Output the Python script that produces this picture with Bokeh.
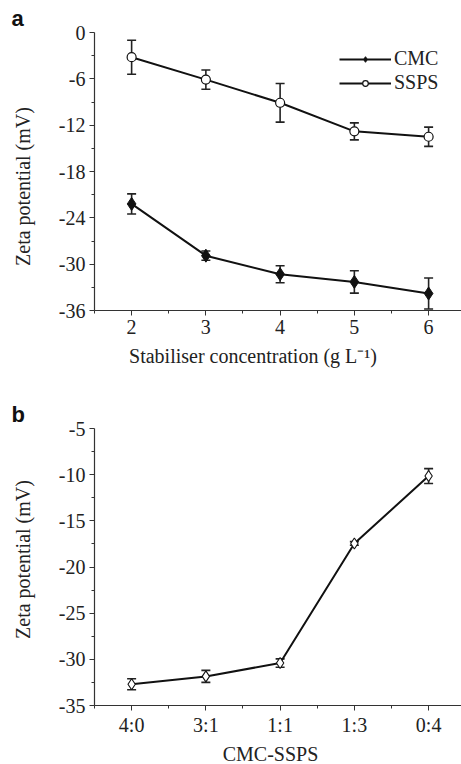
from bokeh.plotting import figure
from bokeh.models import (ColumnDataSource, Whisker, TeeHead, Range1d, FixedTicker,
                          Legend, LegendItem, Title)
from bokeh.layouts import column
from bokeh.embed import file_html
from bokeh.resources import INLINE

# ---------------- data (panel a) ----------------
conc = [2, 3, 4, 5, 6]
cmc_zeta = [-22.2, -28.9, -31.3, -32.3, -33.8]
cmc_err = [1.3, 0.6, 1.1, 1.45, 2.0]
ssps_zeta = [-3.2, -6.1, -9.1, -12.8, -13.5]
ssps_err = [2.2, 1.25, 2.5, 1.1, 1.25]
a_yticks = [-36, -30, -24, -18, -12, -6, 0]

# ---------------- data (panel b) ----------------
ratios = ["4:0", "3:1", "1:1", "1:3", "0:4"]
mix_zeta = [-32.7, -31.85, -30.4, -17.45, -10.15]
mix_err = [0.6, 0.65, 0.45, 0.2, 0.8]
b_yticks = [-35, -30, -25, -20, -15, -10, -5]

SERIF = "Liberation Serif"
TICK_FS = "20px"
LAB_FS = "20px"
NB = "\u00a0"


def style(p):
    p.grid.visible = False
    p.outline_line_color = None
    for ax in (p.xaxis[0], p.yaxis[0]):
        ax.axis_line_color = "#333333"
        ax.axis_line_width = 1.2
        ax.major_tick_line_color = "#333333"
        ax.minor_tick_line_color = "#333333"
        ax.major_tick_out = 5
        ax.major_tick_in = 0
        ax.minor_tick_out = 3
        ax.minor_tick_in = 0
        ax.major_label_text_font = SERIF
        ax.major_label_text_font_size = TICK_FS
        ax.major_label_text_color = "#222222"
        ax.axis_label_text_font = SERIF
        ax.axis_label_text_font_size = LAB_FS
        ax.axis_label_text_font_style = "normal"
        ax.axis_label_text_color = "#222222"
    p.yaxis[0].major_label_standoff = 4
    p.yaxis[0].axis_label_standoff = 22
    p.xaxis[0].major_label_standoff = 4
    p.xaxis[0].axis_label_standoff = 8


def panel_title(p, txt):
    p.add_layout(Title(text=txt, align="left", offset=-83, standoff=4,
                       text_font="Liberation Sans", text_font_style="bold",
                       text_font_size="22px", text_color="#111111"), "above")


def whisk(p, x, y, e):
    up = [a + b for a, b in zip(y, e)]
    lo = [a - b for a, b in zip(y, e)]
    src = ColumnDataSource(dict(x=x, up=up, lo=lo))
    w = Whisker(base="x", upper="up", lower="lo", source=src,
                line_color="#222222", line_width=1.6,
                upper_head=TeeHead(size=9, line_color="#222222", line_width=1.6),
                lower_head=TeeHead(size=9, line_color="#222222", line_width=1.6))
    p.add_layout(w)


# ---------------- panel a ----------------
p1 = figure(frame_width=367, frame_height=278, min_border_left=94, min_border_right=0,
            min_border_top=32, min_border_bottom=70,
            x_range=Range1d(1.5, 6.443), y_range=Range1d(-36, 0),
            output_backend="svg", toolbar_location=None)
p1.xaxis.ticker = FixedTicker(ticks=conc, minor_ticks=[1.5, 2.5, 3.5, 4.5, 5.5, 6.5])
p1.yaxis.ticker = FixedTicker(ticks=a_yticks,
                              minor_ticks=[-33, -27, -21, -15, -9, -3])
p1.yaxis.major_label_overrides = {t: str(t) for t in a_yticks}
p1.xaxis.axis_label = "Stabiliser concentration (g L\u207b\u00b9)" + NB * 10
p1.yaxis.axis_label = "Zeta potential (mV)" + NB * 6
style(p1)
panel_title(p1, "a")

whisk(p1, conc, cmc_zeta, cmc_err)
whisk(p1, conc, ssps_zeta, ssps_err)
l1 = p1.line(conc, cmc_zeta, line_color="#111111", line_width=2)
m1 = p1.scatter(conc, cmc_zeta, marker="diamond", size=13, fill_color="#111111",
                line_color="#111111")
l2 = p1.line(conc, ssps_zeta, line_color="#111111", line_width=2)
m2 = p1.scatter(conc, ssps_zeta, marker="circle", size=9, fill_color="white",
                line_color="#111111", line_width=1.2)

leg = Legend(items=[LegendItem(label="CMC", renderers=[l1, m1]),
                    LegendItem(label="SSPS", renderers=[l2, m2])],
             location=(245, 216), glyph_width=52, glyph_height=14,
             label_standoff=3, spacing=1, padding=0, margin=0,
             label_text_font=SERIF, label_text_font_size=LAB_FS,
             label_text_color="#222222",
             border_line_color=None, background_fill_alpha=0)
p1.add_layout(leg)

# ---------------- panel b ----------------
xpos = list(range(1, len(ratios) + 1))
p2 = figure(frame_width=367, frame_height=277, min_border_left=94, min_border_right=0,
            min_border_top=48, min_border_bottom=59,
            x_range=Range1d(0.5, 5.443), y_range=Range1d(-35, -5),
            output_backend="svg", toolbar_location=None)
p2.xaxis.ticker = FixedTicker(ticks=xpos, minor_ticks=[0.5, 1.5, 2.5, 3.5, 4.5, 5.5])
p2.xaxis.major_label_overrides = {i: r for i, r in zip(xpos, ratios)}
p2.yaxis.ticker = FixedTicker(ticks=b_yticks,
                              minor_ticks=[-32.5, -27.5, -22.5, -17.5, -12.5, -7.5])
p2.yaxis.major_label_overrides = {t: str(t) for t in b_yticks}
p2.xaxis.axis_label = "CMC-SSPS" + NB * 3
p2.yaxis.axis_label = NB * 3 + "Zeta potential (mV)"
style(p2)
panel_title(p2, "b")
p2.xaxis[0].major_label_standoff = 3
p2.xaxis[0].axis_label_standoff = 4

whisk(p2, xpos, mix_zeta, mix_err)
p2.line(xpos, mix_zeta, line_color="#111111", line_width=2)
p2.scatter(xpos, mix_zeta, marker="diamond", size=11, fill_color="white",
           line_color="#111111", line_width=1.1)

lay = column(p1, p2, spacing=0)
open("out.html", "w").write(file_html(lay, INLINE))
